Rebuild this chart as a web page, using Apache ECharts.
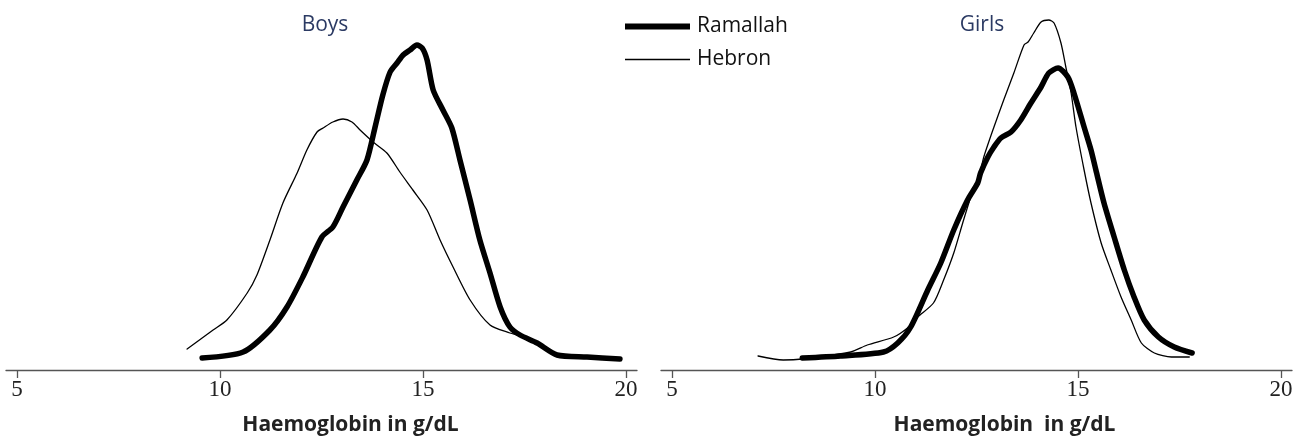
<!DOCTYPE html>
<html>
<head>
<meta charset="utf-8">
<script src="https://cdn.jsdelivr.net/npm/echarts@6/dist/echarts.min.js"></script>
<style>
html,body{margin:0;padding:0;background:#fff;}
#chart{width:1309px;height:437px;}
</style>
</head>
<body>
<div id="chart"></div>
<script>
// Haemoglobin (g/dL) vs relative density
const panelTitles = ['Boys', 'Girls'];
const axisNames = ['Haemoglobin in g/dL', 'Haemoglobin  in g/dL'];
const tickValues = [5, 10, 15, 20];
const seriesNames = ['Ramallah', 'Hebron'];

const boysRamallah = [
  [9.56,0.012],[10.57,0.018],[11.23,0.040],[11.65,0.063],[12.04,0.093],[12.51,0.133],
  [12.78,0.143],[13.03,0.163],[13.37,0.190],[13.62,0.210],[13.82,0.243],[14.01,0.275],
  [14.19,0.298],[14.36,0.307],[14.51,0.315],[14.68,0.320],[14.85,0.325],[14.98,0.322],
  [15.10,0.310],[15.25,0.280],[15.49,0.260],[15.71,0.242],[15.91,0.210],[16.16,0.170],
  [16.40,0.130],[16.65,0.097],[16.90,0.063],[17.14,0.043],[17.39,0.035],[17.81,0.027],
  [18.30,0.015],[19.04,0.013],[19.85,0.011]
];
const boysHebron = [
  [9.19,0.021],[9.83,0.040],[10.17,0.050],[10.67,0.077],[10.91,0.095],[11.23,0.130],
  [11.55,0.167],[11.90,0.197],[12.14,0.220],[12.39,0.238],[12.54,0.242],[12.78,0.248],
  [13.03,0.251],[13.25,0.248],[13.45,0.240],[13.77,0.228],[14.11,0.217],[14.43,0.198],
  [14.75,0.180],[15.10,0.160],[15.42,0.130],[15.74,0.103],[16.16,0.070],[16.65,0.045],
  [17.14,0.037],[17.39,0.034],[17.81,0.027]
];
const girlsRamallah = [
  [8.21,0.012],[9.15,0.014],[10.21,0.018],[10.56,0.027],[10.88,0.043],[11.30,0.080],
  [11.62,0.107],[11.94,0.140],[12.28,0.170],[12.53,0.187],[12.60,0.197],[12.78,0.213],
  [12.93,0.223],[13.10,0.232],[13.35,0.238],[13.59,0.250],[13.84,0.267],[14.09,0.283],
  [14.28,0.297],[14.51,0.302],[14.75,0.293],[14.90,0.277],[15.15,0.243],[15.32,0.220],
  [15.44,0.200],[15.64,0.167],[15.89,0.133],[16.14,0.100],[16.38,0.073],[16.63,0.050],
  [16.98,0.033],[17.37,0.023],[17.81,0.017]
];
const girlsHebron = [
  [7.12,0.014],[7.74,0.010],[8.21,0.011],[9.40,0.018],[9.81,0.025],[10.46,0.033],
  [10.80,0.042],[11.05,0.053],[11.44,0.067],[11.69,0.090],[11.94,0.117],[12.16,0.147],
  [12.36,0.173],[12.56,0.193],[12.68,0.213],[12.93,0.243],[13.17,0.270],[13.42,0.297],
  [13.67,0.325],[13.77,0.328],[13.91,0.337],[14.09,0.348],[14.28,0.350],[14.41,0.347],
  [14.58,0.327],[14.70,0.303],[14.83,0.277],[14.95,0.243],[15.15,0.200],[15.32,0.167],
  [15.57,0.127],[15.81,0.100],[16.06,0.073],[16.31,0.050],[16.56,0.027],[16.88,0.017],
  [17.30,0.013],[17.74,0.013]
];

const chart = echarts.init(document.getElementById('chart'), null, {renderer: 'canvas'});

const axisColor = '#555';
const nameShift = [58, 56];
function xAxisDef(gi) {
  return {
    type: 'value', gridIndex: gi, min: 4.73, max: 20.27,
    name: axisNames[gi], nameLocation: 'middle', nameGap: 45,
    nameTextStyle: {fontFamily: 'Open Sans', fontWeight: 'bold', fontSize: 21, color: '#222',
                    padding: [0, 0, 0, nameShift[gi]]},
    axisLine: {show: true, lineStyle: {color: axisColor, width: 1.3}},
    axisTick: {show: true, inside: false, length: 8, customValues: tickValues, lineStyle: {color: axisColor, width: 1.3}},
    axisLabel: {show: true, customValues: tickValues, margin: 8, fontFamily: 'Liberation Serif', fontSize: 23, color: '#222'},
    splitLine: {show: false}
  };
}
function yAxisDef(gi) {
  return {type: 'value', gridIndex: gi, min: 0, max: 0.36, show: false, splitLine: {show: false}};
}
function lineSeries(name, data, gi, width) {
  return {
    name: name, type: 'line', xAxisIndex: gi, yAxisIndex: gi, data: data,
    showSymbol: false, symbol: 'none', smooth: 0.25, animation: false,
    lineStyle: {color: '#000', width: width, cap: 'round', join: 'round'},
    itemStyle: {color: '#000'}
  };
}
function legendDef(name, top, h) {
  return {
    data: [name], orient: 'vertical', left: 620, top: top, icon: 'rect',
    itemWidth: 65, itemHeight: h, itemGap: 0,
    itemStyle: {color: '#000', borderWidth: 0},
    textStyle: {fontFamily: 'Open Sans', fontSize: 21, color: '#111', padding: [0, 0, 0, 2]},
    selectedMode: false
  };
}

chart.setOption({
  animation: false,
  backgroundColor: '#fff',
  title: [
    {text: panelTitles[0], left: 320, top: 10, textAlign: 'center',
     textStyle: {fontFamily: 'Open Sans', fontWeight: 'normal', fontSize: 21, color: '#2b3a63'}},
    {text: panelTitles[1], left: 977, top: 10, textAlign: 'center',
     textStyle: {fontFamily: 'Open Sans', fontWeight: 'normal', fontSize: 21, color: '#2b3a63'}}
  ],
  legend: [legendDef(seriesNames[0], 11, 6), legendDef(seriesNames[1], 44, 1.5)],
  grid: [
    {left: 6, width: 631, top: 10, height: 360, containLabel: false, outerBoundsMode: 'none'},
    {left: 661, width: 631, top: 10, height: 360, containLabel: false, outerBoundsMode: 'none'}
  ],
  xAxis: [xAxisDef(0), xAxisDef(1)],
  yAxis: [yAxisDef(0), yAxisDef(1)],
  series: [
    lineSeries(seriesNames[0], boysRamallah, 0, 5.5),
    lineSeries(seriesNames[1], boysHebron, 0, 1.3),
    lineSeries(seriesNames[0], girlsRamallah, 1, 5.5),
    lineSeries(seriesNames[1], girlsHebron, 1, 1.3)
  ]
});
</script>
</body>
</html>
